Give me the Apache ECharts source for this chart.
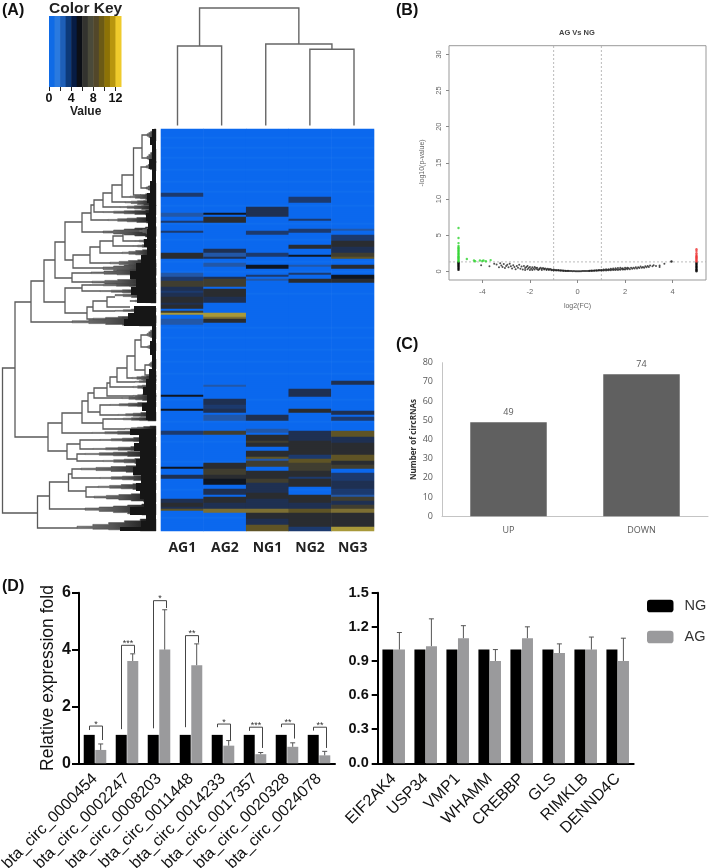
<!DOCTYPE html>
<html><head><meta charset="utf-8">
<style>html,body{margin:0;padding:0;background:#fff}#c{width:709px;height:868px}</style>
<script src="https://cdn.jsdelivr.net/npm/echarts@6/dist/echarts.min.js"></script>
</head><body><div id="c"></div>
<script>
// ---------- Panel A: colour key ----------
const keyValues = [0,1,2,3,4,5,6,7,8,9,10,11,12];
const keyColors = ['#0f6be6','#2a7adf','#1e5fb8','#0d3a7a','#071c44','#0c0f16','#33332f','#4a4a3a','#52472a','#6b5a15','#8c7206','#b8960e','#efcb2c'];
const keyTicks = [0,2,4,6,8,10,12];
const keyLabels = [0,4,8,12];

// ---------- Panel A: heat map ----------
const samples = ['AG1','AG2','NG1','NG2','NG3'];
const heatPalette = ['#0b68ee','#0f6dee','#2257a8','#1c3a6e','#1f3052','#0f1622','#2a2c30','#403e30','#5f5426','#7d6f33','#a8993a'];
const rowCount = 201;
const lightRows = [4,9,14,20,26,31,38,47,55,66,71,82,99,104,110,116,122,135,146,156,166,174,180,194];
// bands: [first row, row after last, level]
const bandsAG1 = [[32,34,3],[42,44,2],[46,47,3],[51,52,3],[62,65,6],[72,74,2],[74,76,3],[76,79,7],[79,81,4],[81,82,3],[82,84,4],[84,87,6],[87,88,4],[88,90,6],[91,92,7],[92,93,10],[95,98,2],[133,134,5],[140,141,5],[151,153,3],[169,170,5],[173,175,4],[185,187,4],[187,189,6],[189,190,4],[190,191,8]];
const bandsAG2 = [[42,43,5],[44,47,6],[60,62,4],[62,64,2],[64,65,4],[67,69,2],[74,75,4],[75,79,7],[80,82,6],[82,84,6],[84,87,4],[92,94,10],[94,95,9],[95,97,6],[128,129,2],[135,138,4],[138,140,3],[140,142,4],[143,146,2],[151,153,7],[167,170,6],[170,173,7],[173,175,6],[175,178,5],[180,183,4],[184,187,6],[187,190,4],[190,192,9]];
const bandsNG1 = [[39,44,4],[51,53,3],[62,64,3],[68,70,5],[73,74,3],[75,76,2],[143,146,4],[150,152,2],[153,156,6],[156,157,7],[157,159,6],[161,164,6],[164,165,8],[165,166,2],[166,169,7],[171,175,6],[175,177,7],[177,182,4],[182,185,6],[185,190,4],[190,192,9],[192,195,6],[195,198,4],[198,201,8]];
const bandsNG2 = [[34,37,3],[45,46,3],[50,51,3],[51,52,3],[58,60,6],[63,64,5],[68,69,2],[72,73,3],[75,77,6],[130,134,4],[140,142,6],[151,152,4],[152,156,4],[156,159,6],[159,163,6],[163,165,3],[165,167,8],[167,171,7],[171,174,6],[174,175,3],[175,179,6],[183,187,6],[187,190,4],[190,192,8],[192,199,6],[199,201,3]];
const bandsNG3 = [[50,51,2],[53,56,3],[56,59,6],[59,62,4],[62,64,7],[64,65,8],[68,70,6],[73,75,5],[75,77,6],[126,128,4],[141,143,4],[144,146,3],[151,154,8],[154,157,4],[157,160,6],[160,163,6],[163,166,8],[166,168,6],[168,170,7],[172,176,3],[176,180,4],[180,183,3],[183,184,2],[184,186,7],[186,188,4],[188,190,7],[190,192,9],[192,199,6],[199,201,10]];
const sampleBands = [bandsAG1,bandsAG2,bandsNG1,bandsNG2,bandsNG3];

// ---------- Panel A: dendrograms ----------
// column tree: [left leaf pos, right leaf pos, height, left child height, right child height]
const colMerges = [[0,1,79.5,0,0],[3,4,76.2,0,0],[2,3.5,81.5,0,76.2],[0.5,2.75,117.5,79.5,81.5]];
// row tree: [depth, top pos, bottom pos, depth of top child, depth of bottom child]
const rowMerges = [
[2.5,239,384,15,37.5],[15,173,308,31,48],[37.5,367,399,49.5,77],[31,152,193,44,72],[44,131,173,55,65],[55,113,149,65,72],
[65,93,131,82,73],[82,84,103,91,103],[91,76,91,94,108],[94,71,83,103,103],[103,64,78,112,120],[112,56,73,122,125],[122,46,68,133.5,130],
[133.5,19,66,142,141],[142,6,29,147,147],[141,38,59,146,146],
[73,126,139,90,103],[90,118,134,100,110],[100,112,124,113,122],[113,107,117,123,133],[123,102,112,139,135],
[72,144,153,91,92],[65,159,184,82,87],[82,156,162,90,100],[87,178,190,93,93],[93,172,182,107,115],[107,168,178,115,130],
[48,294,322,62,67],[62,284,304,82,92],[82,272,294,88,103],[88,264,283,94,100],[94,259,269,107,122],[107,254,267,110,133],
[110,248,258,117,133],[117,239,253,127,135],[127,227,249,135,132],[135,211,241,141,145],[141,206,218,147,147],[145,236,246,149,149],
[100,276,286,110,118],[103,290,300,115,125],[67,315,330,80,77],[80,311,320,100,93],[77,325,332,85,103],
[49.5,353,380,68.5,85],[68.5,345,362,72,86],[72,340,349,81,100],[86,358,368,98,94]];
// leaf wedges: [depth, mid pos, top pos, bottom pos]
const rowWedges = [
[147,6,0,12],[147,29,20,34],[146,38,32,42],[146,59,54,64],[130,68,64,71],[125,73,71,77],[120,78,76,81],[103,83,81,86],[108,91,88,94],[103,103,98,108],
[139,102,97,107],[135,112,110,114],[133,117,115,119],[122,124,120,127],[110,134,130,138],[103,139,134,146],[91,144,139,147],[92,153,149,158],
[90,156,154,158],[100,162,160,165],[115,166,164,170],[130,172,170,174],[115,182,179,183],[93,190,186,194],[72,193,187,197],
[147,206,198,210],[147,218,214,222],[149,236,230,240],[149,246,242,248],[132,249,246,252],[135,253,250,254],[133,258,255,261],[133,267,264,268],[122,269,266,272],
[110,276,273,278],[118,286,283,288],[115,290,288,292],[125,300,297,301],[92,304,301,306],
[100,311,308,313],[93,320,317,322],[85,325,322,328],[103,332,329,335],[81,340,336,344],[100,349,346,352],[98,358,354,361],[94,368,364,373],[85,380,375,386],[77,399,390,402]];
// dense leaf mass: [top pos, bottom pos, depth]
const leafMass = [[0,8,152],[8,16,150],[16,30,152],[30,40,149],[40,52,152],[52,64,150],[64,74,147],[74,84,149],[84,92,146],[92,100,148],[100,110,147],[110,118,144],[118,126,147],[126,134,141],[134,142,136],[142,150,130],[150,158,136],[158,166,131],[166,174,137],[177,184,134],[184,190,128],[190,197,124],
[197,212,152],[212,226,150],[226,240,152],[240,250,149],[250,258,146],[258,266,143],[266,274,147],[274,282,142],[282,291,146],[300,306,130],[306,314,139],[314,322,134],[322,330,140],[330,338,136],[338,346,133],[346,354,141],[354,362,136],[362,370,140],[370,378,144],[378,386,130],[386,392,146],[392,398,141],[398,402,120]];

// ---------- Panel B: volcano ----------
const greenPts = [[-5,1.35],[-5,1.5],[-5,1.65],[-5,1.8],[-5,1.95],[-5,2.1],[-5,2.25],[-5,2.4],[-5,2.55],[-5,2.7],[-5,2.85],[-5,3],[-5,3.15],[-5,3.3],[-5,3.5],[-5,3.9],[-5,4.6],[-5,6],[-4.65,1.7],[-4.35,1.5],[-4.3,1.4],[-4.1,1.5],[-3.95,1.5],[-3.85,1.4],[-3.65,1.55],[-4.0,1.42]];
const redPts = [[5,1.35],[5,1.5],[5,1.65],[5,1.8],[5,1.95],[5,2.1],[5,2.25],[5,2.5],[5,2.8],[5,3.05]];
const blackEnds = [[-5,0.2],[-5,0.35],[-5,0.5],[-5,0.65],[-5,0.8],[-5,0.95],[-5,1.1],[-5,1.25],[5,0],[5,0.15],[5,0.3],[5,0.45],[5,0.6],[5,0.75],[5,0.9],[5,1.05],[5,1.2],[3.95,1.35]];
const blackPts = [
[-4.05,0.85],[-3.7,0.7],[-3.5,1.05],[-3.4,0.95],[-3.3,0.55],[-3.25,1.1],[-3.2,0.8],[-3.15,0.6],[-3.1,1.0],[-3.05,0.45],[-3,0.75],[-2.95,0.9],[-2.9,0.55],[-2.85,1.05],[-2.8,0.7],[-2.75,0.4],[-2.7,0.85],[-2.65,0.6],[-2.6,0.3],[-2.55,0.75],[-2.5,0.5],[-2.45,0.9],[-2.4,0.35],[-2.35,0.65],[-2.3,0.25],[-2.25,0.75],[-2.2,0.45],[-2.2,0.2],[-2.15,0.6],[-2.1,0.3],[-2.1,0.75],[-2.05,0.45],[-2,0.2],[-2,0.6],[-1.95,0.35],[-1.9,0.55],[-1.9,0.2],[-1.85,0.4],[-1.8,0.25],[-1.8,0.6],[-1.75,0.45],[-1.7,0.3],[-1.7,0.5],[-1.65,0.2],[-1.6,0.4],[-1.6,0.3],[-1.55,0.5],[-1.5,0.2],[-1.5,0.35],[-1.45,0.45],[-1.4,0.25],[-1.4,0.35],[-1.35,0.4],[-1.3,0.18],[-1.3,0.3],[-1.25,0.35],[-1.2,0.2],[-1.2,0.28],[-1.15,0.32],[-1.1,0.15],[-1.1,0.25],[-1.05,0.2],[-1,0.12],[-1,0.24],[-0.95,0.18],[-0.9,0.1],[-0.9,0.2],[-0.85,0.14],[-0.8,0.1],[-0.8,0.17],[-0.75,0.12],[-0.7,0.08],[-0.7,0.14],[-0.65,0.1],[-0.6,0.06],[-0.6,0.12],[-0.55,0.08],[-0.5,0.05],[-0.5,0.09],[-0.45,0.06],[-0.4,0.04],[-0.4,0.07],[-0.35,0.05],[-0.3,0.03],[-0.25,0.04],[-0.2,0.02],[-0.15,0.03],[-0.1,0.02],[-0.05,0.01],[0,0.01],[0.05,0.01],[0.1,0.02],[0.15,0.02],[0.2,0.03],[0.25,0.03],[0.3,0.04],[0.35,0.05],[0.4,0.05],[0.45,0.06],[0.5,0.08],[0.5,0.05],[0.55,0.09],[0.6,0.06],[0.6,0.11],[0.65,0.08],[0.7,0.13],[0.7,0.07],[0.75,0.1],[0.8,0.15],[0.8,0.08],[0.85,0.12],[0.9,0.18],[0.9,0.1],[0.95,0.14],[1,0.1],[1,0.2],[1.05,0.16],[1.1,0.12],[1.1,0.24],[1.15,0.18],[1.2,0.13],[1.2,0.28],[1.25,0.2],[1.3,0.15],[1.3,0.3],[1.35,0.22],[1.4,0.16],[1.4,0.34],[1.45,0.25],[1.5,0.17],[1.5,0.38],[1.55,0.26],[1.6,0.2],[1.6,0.42],[1.65,0.3],[1.7,0.2],[1.7,0.45],[1.75,0.3],[1.8,0.22],[1.8,0.48],[1.85,0.35],[1.9,0.25],[1.9,0.42],[1.95,0.3],[2,0.25],[2,0.5],[2.05,0.38],[2.1,0.3],[2.1,0.5],[2.15,0.42],[2.2,0.3],[2.25,0.5],[2.3,0.35],[2.35,0.5],[2.4,0.4],[2.45,0.55],[2.5,0.38],[2.55,0.55],[2.6,0.45],[2.65,0.65],[2.7,0.5],[2.75,0.6],[2.8,0.48],[2.85,0.7],[2.9,0.55],[2.95,0.75],[3,0.6],[3.05,0.8],[3.15,0.7],[3.2,0.85],[3.3,0.75],[3.45,0.8],[3.45,0.6],[3.65,1.05]];
const xTickVals = [-4,-2,0,2,4];
const yTickVals = [0,5,10,15,20,25,30];
const vLines = [-1,1];
const hLineVal = 1.3;

// ---------- Panel C ----------
const dirCats = ['UP','DOWN'];
const dirCounts = [49,74];

// ---------- Panel D ----------
const circNames = ['bta_circ_0000454','bta_circ_0002247','bta_circ_0008203','bta_circ_0011448','bta_circ_0014233','bta_circ_0017357','bta_circ_0020328','bta_circ_0024078'];
const circNG = [1,1,1,1,1,1,1,1];
const circAG = [0.47,3.6,4.0,3.45,0.62,0.32,0.58,0.28];
const circErr = [0.68,3.85,5.4,4.2,0.8,0.38,0.72,0.42];
const circSigTop = [1.31,4.15,5.72,4.49,1.38,1.27,1.38,1.27];
const circSigLeft = [1.17,1.2,1.23,1.27,1.27,1.14,1.27,1.15];
const circSigRight = [0.82,3.88,5.46,4.24,0.82,0.54,0.87,0.54];
const circSigText = ['*','***','*','**','*','***','**','**'];
const geneNames = ['EIF2AK4','USP34','VMP1','WHAMM','CREBBP','GLS','RIMKLB','DENND4C'];
const geneNG = [1,1,1,1,1,1,1,1];
const geneAG = [1.0,1.03,1.1,0.9,1.1,0.97,1.0,0.9];
const geneErr = [1.15,1.27,1.21,1.0,1.2,1.05,1.11,1.1];

// ---------- build ----------
const heatData = [];
sampleBands.forEach((bands,c)=>{
  for(let r=0;r<rowCount;r++){
    let lvl = lightRows.includes(r)?1:0;
    bands.forEach(b=>{ if(r>=b[0]&&r<b[1]) lvl=b[2]; });
    heatData.push({value:[c,r,lvl],itemStyle:{color:heatPalette[lvl]}});
  }
});
const rowCats = Array.from({length:rowCount},(_,i)=>String(i));
const treeStroke = '#5a5a5a';
const black = '#000', gray = '#9a9a9c';
const halfBar = 5.7;

function line(pts,color,w){return {type:'polyline',shape:{points:pts},style:{stroke:color,fill:null,lineWidth:w}};}
const hiddenAxis = (o)=>Object.assign({show:false},o);

const grids = [
 {left:49,top:16,width:72,height:71},            //0 key
 {left:161,top:129,width:213,height:402},         //1 heat
 {left:177.5,top:7,width:176.5,height:118.5},     //2 col tree
 {left:0,top:129,width:156,height:402},           //3 row tree
 {left:449,top:45.7,width:257,height:234.3,show:true,borderColor:'#999',borderWidth:1}, //4 volcano
 {left:442,top:362.7,width:266,height:153.6},     //5 bars C
 {left:79,top:592.7,width:256,height:170.6},      //6 D left
 {left:377.7,top:592.7,width:256,height:170.6}    //7 D right
].map(g=>Object.assign({outerBoundsMode:'none'},g));
const boldNum = {fontFamily:'Liberation Sans',fontWeight:'bold',color:'#111'};
const xAxes = [
 {gridIndex:0,type:'value',min:0,max:13,axisLine:{show:false},splitLine:{show:false},
  axisTick:{show:true,length:4,lineStyle:{color:'#222'},customValues:keyTicks},
  axisLabel:Object.assign({fontSize:12.5,margin:5,customValues:keyLabels},boldNum)},
 {gridIndex:1,type:'category',data:samples,position:'bottom',axisLine:{show:false},axisTick:{show:false},
  axisLabel:{fontFamily:'Open Sans',fontWeight:'bold',fontSize:14,color:'#222',margin:10}},
 hiddenAxis({gridIndex:2,type:'value',min:0,max:4}),
 hiddenAxis({gridIndex:3,type:'value',min:0,max:156}),
 {gridIndex:4,type:'value',min:-5.4,max:5.4,splitLine:{show:false},
  axisLine:{show:false,onZero:false},axisTick:{show:true,length:3,lineStyle:{color:'#888'},customValues:xTickVals},
  axisLabel:{fontSize:7.5,color:'#666',margin:8,customValues:xTickVals,fontFamily:'Liberation Sans'},
  name:'log2(FC)',nameLocation:'middle',nameGap:23,nameTextStyle:{fontSize:7,color:'#666',fontFamily:'Liberation Sans'}},
 {gridIndex:5,type:'category',data:dirCats,axisLine:{lineStyle:{color:'#c4c4c4'}},axisTick:{show:false},
  axisLabel:{fontSize:9,color:'#595959',margin:10,fontFamily:'Open Sans'}},
 {gridIndex:6,type:'category',data:circNames,axisLine:{lineStyle:{color:'#000',width:2}},axisTick:{length:6,alignWithLabel:true,lineStyle:{color:'#000',width:2}},
  axisLabel:{interval:0,rotate:45,fontSize:16,color:'#111',margin:13,fontFamily:'Liberation Sans'}},
 {gridIndex:7,type:'category',data:geneNames,axisLine:{lineStyle:{color:'#000',width:2}},axisTick:{length:6,alignWithLabel:true,lineStyle:{color:'#000',width:2}},
  axisLabel:{interval:0,rotate:45,fontSize:16,color:'#111',margin:13,fontFamily:'Liberation Sans'}}
];
const yAxes = [
 hiddenAxis({gridIndex:0,type:'value',min:0,max:1}),
 {gridIndex:1,type:'category',data:rowCats,inverse:true,show:false},
 hiddenAxis({gridIndex:2,type:'value',min:0,max:118.5}),
 hiddenAxis({gridIndex:3,type:'value',min:0,max:402,inverse:true}),
 {gridIndex:4,type:'value',min:-1.2,max:31.2,splitLine:{show:false},
  axisLine:{show:false,onZero:false},axisTick:{show:true,length:3,lineStyle:{color:'#888'},customValues:yTickVals},
  axisLabel:{fontSize:7.5,color:'#666',margin:6,rotate:90,customValues:yTickVals,fontFamily:'Liberation Sans'},
  name:'-log10(p-value)',nameLocation:'middle',nameGap:23,nameTextStyle:{fontSize:7,color:'#666',fontFamily:'Liberation Sans'}},
 {gridIndex:5,type:'value',min:0,max:80,interval:10,splitLine:{show:false},axisLine:{show:true,lineStyle:{color:'#c4c4c4'}},axisTick:{show:false},
  axisLabel:{fontSize:9,color:'#595959',margin:9,fontFamily:'Open Sans'},
  name:'Number of circRNAs',nameLocation:'middle',nameGap:24,nameTextStyle:{fontSize:8,fontWeight:'bold',color:'#333',fontFamily:'Open Sans'}},
 {gridIndex:6,type:'value',min:0,max:6,interval:2,splitLine:{show:false},axisLine:{show:true,lineStyle:{color:'#000',width:2}},
  axisTick:{show:true,length:7,lineStyle:{color:'#000',width:2}},
  axisLabel:Object.assign({fontSize:16,margin:8},boldNum),
  name:'Relative expression fold',nameLocation:'middle',nameGap:22,nameTextStyle:{fontSize:17.5,color:'#111',fontFamily:'Liberation Sans'}},
 {gridIndex:7,type:'value',min:0,max:1.5,interval:0.3,splitLine:{show:false},axisLine:{show:true,lineStyle:{color:'#000',width:2}},
  axisTick:{show:true,length:6,lineStyle:{color:'#000',width:2}},
  axisLabel:Object.assign({fontSize:14.5,margin:9,formatter:v=>v.toFixed(1)},boldNum)}
];

const keyStripes = {type:'custom',xAxisIndex:0,yAxisIndex:0,silent:true,
 data:keyValues.map((v,i)=>[v,v+1,i]),
 renderItem(p,api){
   const a=api.coord([api.value(0),1]), b=api.coord([api.value(1),0]);
   return {type:'rect',shape:{x:a[0],y:a[1],width:b[0]-a[0]+0.5,height:b[1]-a[1]},style:{fill:keyColors[api.value(2)]}};
 }};
const colTree = {type:'custom',xAxisIndex:2,yAxisIndex:2,silent:true,data:colMerges,clip:false,
 renderItem(p,api){
   const l=api.value(0),r=api.value(1),h=api.value(2),hl=api.value(3),hr=api.value(4);
   return line([api.coord([l,hl]),api.coord([l,h]),api.coord([r,h]),api.coord([r,hr])],'#666',1.4);
 }};
const wedgeFill = new echarts.graphic.LinearGradient(0,0,1,0,[{offset:0,color:'#777'},{offset:0.45,color:'#555'},{offset:1,color:'#111'}]);
const wedgeSteps = 5;
const rowWedgeSeries = {type:'custom',xAxisIndex:3,yAxisIndex:3,silent:true,data:rowWedges,clip:false,z:3,
 renderItem(p,api){
   const d=api.value(0),m=api.value(1),t=api.value(2),b=api.value(3);
   const upper=[],lower=[];
   for(let k=0;k<wedgeSteps;k++){
     const x0=d+(156-d)*k/wedgeSteps,x1=d+(156-d)*(k+1)/wedgeSteps;
     const yt=m-(m-t)*(k+1)/wedgeSteps,yb=m+(b-m)*(k+1)/wedgeSteps;
     upper.push(api.coord([x0,yt]),api.coord([x1,yt]));
     lower.unshift(api.coord([x1,yb]),api.coord([x0,yb]));
   }
   return {type:'polygon',shape:{points:upper.concat(lower)},style:{fill:wedgeFill,stroke:'#444',lineWidth:0.5}};
 }};
const leafSeries = {type:'custom',xAxisIndex:3,yAxisIndex:3,silent:true,data:leafMass,clip:false,z:4,
 renderItem(p,api){
   const a=api.coord([api.value(2),api.value(0)]), b=api.coord([156,api.value(1)]);
   return {type:'rect',shape:{x:a[0],y:a[1],width:b[0]-a[0],height:b[1]-a[1]},style:{fill:'#161616'}};
 }};
const rowTree = {type:'custom',xAxisIndex:3,yAxisIndex:3,silent:true,data:rowMerges,clip:false,z:5,
 renderItem(p,api){
   const d=api.value(0),t=api.value(1),b=api.value(2),dt=api.value(3),db=api.value(4);
   return line([api.coord([dt,t]),api.coord([d,t]),api.coord([d,b]),api.coord([db,b])],treeStroke,1.3);
 }};
const dashed = {type:'custom',xAxisIndex:4,yAxisIndex:4,silent:true,z:1,
 data:[[vLines[0],-1.2,vLines[0],31.2],[vLines[1],-1.2,vLines[1],31.2],[-5.4,hLineVal,5.4,hLineVal]],
 renderItem(p,api){
   const a=api.coord([api.value(0),api.value(1)]),b=api.coord([api.value(2),api.value(3)]);
   return {type:'line',shape:{x1:a[0],y1:a[1],x2:b[0],y2:b[1]},style:{stroke:'#aaa',lineWidth:0.8,lineDash:[2,2]}};
 }};
const scat = (d,c,s)=>({type:'scatter',xAxisIndex:4,yAxisIndex:4,data:d,symbolSize:s,silent:true,itemStyle:{color:c},z:3});
const errSeries = (ax,cats,errs,vals)=>({type:'custom',xAxisIndex:ax,yAxisIndex:ax,silent:true,z:3,data:cats.map((c,i)=>[i,errs[i],vals[i]]),
 renderItem(p,api){
   const t=api.coord([api.value(0),api.value(1)]), v=api.coord([api.value(0),api.value(2)]);
   const x=t[0]+halfBar;
   return {type:'group',children:[line([[x,t[1]],[x,v[1]]],'#555',1),line([[x-2.5,t[1]],[x+2.5,t[1]]],'#555',1)]};
 }});
const barPair = (ax,ng,ag)=>[
 {name:'NG',type:'bar',xAxisIndex:ax,yAxisIndex:ax,data:ng,barWidth:11,barGap:'5%',itemStyle:{color:black},silent:true,z:2},
 {name:'AG',type:'bar',xAxisIndex:ax,yAxisIndex:ax,data:ag,barWidth:11,barGap:'5%',itemStyle:{color:gray},silent:true,z:2}
];
const brackets = {type:'custom',xAxisIndex:6,yAxisIndex:6,silent:true,z:4,
 data:circNames.map((c,i)=>[i,circSigTop[i],circSigLeft[i],circSigRight[i],i]),
 renderItem(p,api){
   const i=api.value(0),t=api.coord([i,api.value(1)]),l=api.coord([i,api.value(2)]),r=api.coord([i,api.value(3)]);
   const xl=t[0]-5.5,xr=t[0]+7.5;
   return {type:'group',children:[
     line([[xl,l[1]],[xl,t[1]],[xr,t[1]],[xr,r[1]]],'#444',1),
     {type:'text',style:{text:circSigText[api.value(4)],x:t[0]+1,y:t[1]-2,align:'center',verticalAlign:'middle',font:'9px Liberation Sans',fill:'#333'}}
   ]};
 }};
const panelLabel=(t,x,y)=>({type:'text',left:x,top:y,style:{text:t,font:'bold 16px Liberation Sans',fill:'#111'}});

const option = {
 animation:false,backgroundColor:'#fff',
 grid:grids,xAxis:xAxes,yAxis:yAxes,
 legend:{left:647,top:598.5,orient:'vertical',itemWidth:26.5,itemHeight:12.5,itemGap:16,icon:'roundRect',selectedMode:false,padding:0,
   data:['NG','AG'],textStyle:{fontSize:14.5,color:'#333',fontFamily:'Liberation Sans',padding:[0,0,0,6]}},
 graphic:[
  panelLabel('(A)',2,3),panelLabel('(B)',396,3),panelLabel('(C)',396,337),panelLabel('(D)',2,579),
  {type:'text',left:49,top:1,style:{text:'Color Key',font:'bold 15.5px Liberation Sans',fill:'#222'}},
  {type:'text',left:70,top:106,style:{text:'Value',font:'bold 12px Liberation Sans',fill:'#222'}},
  {type:'text',left:559,top:29,style:{text:'AG Vs NG',font:'bold 7.5px Liberation Sans',fill:'#444'}}
 ],
 series:[
  keyStripes,
  {type:'heatmap',xAxisIndex:1,yAxisIndex:1,data:heatData,silent:true,progressive:0,itemStyle:{borderWidth:0}},
  colTree,rowWedgeSeries,leafSeries,rowTree,
  dashed,scat(blackPts,'#222',2),scat(blackEnds,'#000',2.4),scat(greenPts,'#2fd42f',2.4),scat(redPts,'#ee3333',2.4),
  {type:'bar',xAxisIndex:5,yAxisIndex:5,data:dirCounts,barWidth:76.5,itemStyle:{color:'#606060'},silent:true,
   label:{show:true,position:'top',fontSize:9,color:'#595959',distance:5,fontFamily:'Open Sans'}},
  ...barPair(6,circNG,circAG),errSeries(6,circNames,circErr,circAG),brackets,
  ...barPair(7,geneNG,geneAG),errSeries(7,geneNames,geneErr,geneAG)
 ]
};
echarts.init(document.getElementById('c'),null,{renderer:'canvas'}).setOption(option);
</script></body></html>
